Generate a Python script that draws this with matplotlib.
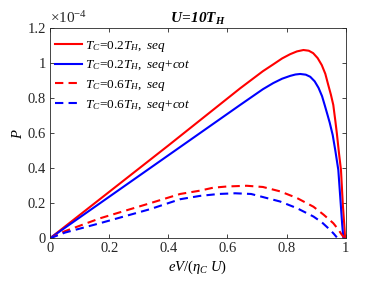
import matplotlib
matplotlib.use("Agg")
import matplotlib.pyplot as plt

plt.rcParams['font.family'] = ['Liberation Serif', 'DejaVu Serif']
plt.rcParams['mathtext.fontset'] = 'custom'
plt.rcParams['mathtext.rm'] = 'Liberation Serif'
plt.rcParams['mathtext.it'] = 'Liberation Serif:italic'
plt.rcParams['mathtext.bf'] = 'Liberation Serif:bold:italic'

# power P in units of 1e-4, versus eV/(eta_C U)
x_solid_red = [0, 0.2, 0.4, 0.643, 0.72, 0.755, 0.785, 0.812, 0.835, 0.857, 0.875,
               0.890, 0.905, 0.919, 0.931, 0.941, 0.950, 0.958, 0.965, 0.970,
               0.977, 0.984, 0.990, 0.995, 0.998]
p_solid_red = [0, 0.265, 0.53, 0.857, 0.955, 0.994, 1.028, 1.052, 1.068, 1.076,
               1.072, 1.058, 1.030, 0.990, 0.940, 0.876, 0.820, 0.762, 0.670,
               0.600, 0.490, 0.390, 0.200, 0.080, 0.0]

x_solid_blue = [0, 0.2, 0.4, 0.643, 0.72, 0.755, 0.785, 0.812, 0.83, 0.846, 0.865,
                0.880, 0.895, 0.908, 0.920, 0.930, 0.939, 0.946, 0.956, 0.965,
                0.975, 0.983, 0.988, 0.992]
p_solid_blue = [0, 0.237, 0.474, 0.762, 0.852, 0.887, 0.912, 0.928, 0.936, 0.939,
                0.935, 0.923, 0.897, 0.860, 0.812, 0.755, 0.702, 0.660, 0.590,
                0.500, 0.390, 0.200, 0.080, 0.0]

x_dash_red = [0, 0.05, 0.169, 0.338, 0.44, 0.507, 0.552, 0.6, 0.665, 0.72,
              0.778, 0.835, 0.891, 0.925, 0.958, 0.975, 0.986, 0.994]
p_dash_red = [0, 0.04, 0.114, 0.2, 0.253, 0.272, 0.289, 0.296, 0.300, 0.293,
              0.268, 0.230, 0.180, 0.135, 0.086, 0.050, 0.022, 0.005]

x_dash_blue = [0, 0.05, 0.169, 0.338, 0.44, 0.507, 0.57, 0.626, 0.68, 0.778,
               0.835, 0.891, 0.92, 0.947, 0.96, 0.97]
p_dash_blue = [0, 0.032, 0.086, 0.166, 0.223, 0.242, 0.253, 0.257, 0.253, 0.210,
               0.172, 0.124, 0.090, 0.048, 0.025, 0.005]

labels = [r'$T_C\!=\!0.2T_{H},\ seq$', r'$T_C\!=\!0.2T_{H},\ seq\!+\!cot$',
          r'$T_C\!=\!0.6T_{H},\ seq$', r'$T_C\!=\!0.6T_{H},\ seq\!+\!cot$']

fig = plt.figure(figsize=(3.82, 2.86), dpi=100)
ax = fig.add_axes([0.131, 0.167, 0.774, 0.734])

lw = 1.5
ax.plot(x_solid_red, p_solid_red, color='#ff0000', lw=lw, label=labels[0])
ax.plot(x_solid_blue, p_solid_blue, color='#0000ff', lw=lw, label=labels[1])
ax.plot(x_dash_red, p_dash_red, color='#ff0000', lw=lw, ls=(0, (4, 2.5)), label=labels[2])
ax.plot(x_dash_blue, p_dash_blue, color='#0000ff', lw=lw, ls=(0, (4, 2.5)), label=labels[3])

ax.set_xlim(0, 1)
ax.set_ylim(0, 1.2)
ax.set_xticks([0, 0.2, 0.4, 0.6, 0.8, 1])
ax.set_xticklabels(['0', '0.2', '0.4', '0.6', '0.8', '1'])
ax.set_yticks([0, 0.2, 0.4, 0.6, 0.8, 1, 1.2])
ax.set_yticklabels(['0', '0.2', '0.4', '0.6', '0.8', '1', '1.2'])
ax.tick_params(direction='in', top=True, right=True, labelsize=10.5, length=3,
               width=0.6, color='#262626', labelcolor='#262626', pad=3)
for s in ax.spines.values():
    s.set_linewidth(0.6)
    s.set_color('#262626')

ax.set_xlabel(r'$eV/(\eta_C\ U)$', fontsize=10.5, labelpad=2)
ax.set_ylabel(r'$P$', fontsize=10.5, labelpad=2)
ax.set_title(r'$\mathbf{U\!=\!10T_H}$', fontsize=11, pad=4)
ax.text(0.0, 1.01, r'$\times10^{-4}$', transform=ax.transAxes, fontsize=11,
        ha='left', va='bottom', color='#262626')

ax.legend(loc='upper left', frameon=False, fontsize=9.5, handlelength=2.0,
          handletextpad=0.25, labelspacing=0.35, borderaxespad=0.2,
          borderpad=0.2, bbox_to_anchor=(0.0, 0.975))

fig.savefig('out.png', dpi=100)
